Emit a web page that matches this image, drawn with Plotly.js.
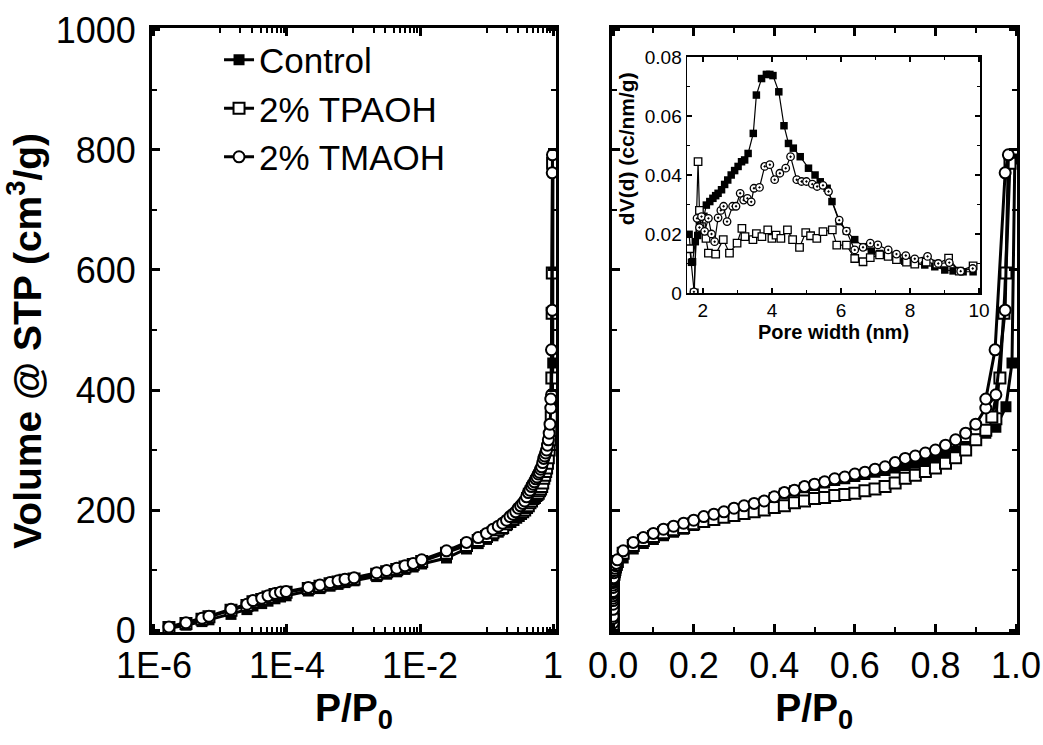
<!DOCTYPE html>
<html>
<head>
<meta charset="utf-8">
<script src="https://cdn.plot.ly/plotly-3.0.1.min.js"></script>
<style>html,body{margin:0;padding:0;background:#fff;}#chart{width:1043px;height:745px;}</style>
</head>
<body>
<div id="chart"></div>
<script>
// ---------- Isotherm data (P/P0, volume cm3/g) ----------
const pLow = [1.68e-6, 3.03e-6, 5.27e-6, 6.71e-6, 1.44e-5, 2.5e-5, 3.08e-5, 4.17e-5, 5.18e-5, 6.6e-5, 8.0e-5, 9.7e-5,
  2.09e-4, 3.13e-4, 4.44e-4, 5.85e-4, 7.45e-4, 1.02e-3, 2.23e-3, 3.15e-3, 4.47e-3, 5.94e-3, 7.9e-3, 1.06e-2];
const pMid = [0.025, 0.05, 0.075, 0.1, 0.125, 0.15, 0.175, 0.2, 0.225, 0.25, 0.275, 0.3, 0.325, 0.35, 0.375,
  0.4, 0.425, 0.45, 0.475, 0.5, 0.525, 0.55, 0.575, 0.6, 0.625, 0.65, 0.675, 0.7, 0.725, 0.75, 0.775, 0.8,
  0.825, 0.85, 0.875, 0.9, 0.925, 0.95];

const ctrlLowV = [3, 8, 14, 17, 26, 34, 40, 44, 48, 52, 55, 57, 65, 69, 73, 76, 79, 82, 89, 93, 97, 101, 105, 110];
const ctrlMidV = [120, 135, 144, 151, 157, 163, 168, 174, 180, 185, 190, 196, 201, 207, 213, 221, 228, 232, 237, 241,
  245, 249, 252, 256, 259, 263, 266, 270, 274, 278, 282, 286, 291, 298, 306, 318, 328, 338];
const ctrlHighP = [0.975, 0.99, 0.997];
const ctrlHighV = [372, 445, 785];

const tpaLowV = [4, 11, 18, 22, 33, 41, 47, 51, 55, 59, 61, 63, 69, 73, 77, 80, 83, 85, 93, 97, 101, 105, 109, 114];
const tpaMidV = [128, 141, 149, 156, 162, 167, 171, 177, 181, 184, 188, 191, 194, 197, 200, 204, 207, 212, 215, 219,
  221, 224, 226, 228, 232, 235, 239, 245, 253, 258, 264, 270, 278, 287, 300, 317, 333, 352];
const tpaHighP = [0.97, 0.985, 0.975, 0.96, 0.94];
const tpaHighV = [528, 778, 595, 420, 355];

const tmaLowV = [5, 12, 19.5, 23, 34.5, 43, 49, 53, 57, 61, 63, 64, 71, 75, 79, 82, 84.5, 87, 95.5, 99, 103, 107, 111, 117];
const tmaMidV = [132, 146, 154, 161, 168, 173, 178, 183, 189, 193, 197, 203, 207, 211, 215, 222, 229, 233, 239, 243,
  247, 252, 255, 260, 263, 268, 272, 279, 286, 290, 295, 300, 308, 317, 328, 343, 370, 392];
const tmaHighP = [0.973, 0.981, 0.973, 0.948, 0.925];
const tmaHighV = [533, 792, 762, 467, 385];

// ---------- Inset: pore size distribution ----------
const ctrlPoreW = [1.60, 1.67, 1.70, 1.78, 1.85, 1.95, 2.03, 2.10, 2.20, 2.29, 2.37, 2.44, 2.54, 2.63, 2.72, 2.82, 2.92,
  3.02, 3.12, 3.21, 3.31, 3.46, 3.55, 3.70, 3.84, 3.94, 4.03, 4.20, 4.35, 4.48, 4.62, 4.82, 5.06, 5.25, 5.40, 5.60,
  5.74, 5.95, 6.16, 6.40, 6.66, 6.88, 7.12, 7.37, 7.61, 7.85, 8.14, 8.43, 8.72, 9.01, 9.25, 9.54, 9.83];
const ctrlDV = [0.0199, 0.0104, 0.0106, 0.0174, 0.0195, 0.022, 0.026, 0.0298, 0.031, 0.0321, 0.033, 0.0338, 0.035,
  0.0368, 0.0383, 0.0400, 0.0415, 0.0429, 0.0445, 0.0451, 0.0473, 0.0541, 0.0671, 0.0727, 0.0741, 0.0741, 0.0737,
  0.0682, 0.0567, 0.0507, 0.0491, 0.0462, 0.0423, 0.0400, 0.0377, 0.0355, 0.0310, 0.0242, 0.0210, 0.0181, 0.0157,
  0.0142, 0.0134, 0.0125, 0.0117, 0.0108, 0.0100, 0.0095, 0.0089, 0.0078, 0.0075, 0.0072, 0.0072];
const tpaPoreW = [1.62, 1.75, 1.86, 1.90, 1.96, 2.09, 2.16, 2.37, 2.59, 2.77, 2.99, 3.13, 3.22, 3.45, 3.55, 3.71, 3.88,
  4.00, 4.12, 4.26, 4.45, 4.60, 4.80, 4.98, 5.12, 5.30, 5.48, 5.75, 5.88, 6.16, 6.40, 6.64, 6.85, 7.12, 7.37, 7.61,
  7.90, 8.14, 8.47, 8.78, 9.12, 9.43, 9.83];
const tpaDV = [0.0150, 0.0000, 0.0445, 0.0280, 0.0225, 0.0185, 0.0135, 0.0132, 0.0181, 0.0135, 0.0169, 0.0219, 0.0191,
  0.0181, 0.0201, 0.0191, 0.0214, 0.0185, 0.0196, 0.0185, 0.0214, 0.0181, 0.0155, 0.0205, 0.0194, 0.0185, 0.0208,
  0.0214, 0.0162, 0.0162, 0.0117, 0.0106, 0.0120, 0.0129, 0.0124, 0.0113, 0.0105, 0.0098, 0.0105, 0.0098, 0.0118,
  0.0074, 0.0092];
const tmaPoreW = [1.74, 1.83, 1.90, 1.96, 2.05, 2.16, 2.25, 2.34, 2.44, 2.52, 2.60, 2.70, 2.86, 2.96, 3.08, 3.18, 3.29,
  3.40, 3.48, 3.64, 3.79, 3.94, 4.08, 4.23, 4.40, 4.54, 4.72, 4.86, 5.00, 5.17, 5.31, 5.48, 5.64, 5.95, 6.16, 6.40,
  6.64, 6.85, 7.07, 7.37, 7.61, 7.88, 8.14, 8.51, 8.82, 9.14, 9.47, 9.82];
const tmaDV = [0.0004, 0.0253, 0.0222, 0.0259, 0.0209, 0.0253, 0.0200, 0.0174, 0.0255, 0.0280, 0.0294, 0.0242, 0.0294,
  0.0294, 0.0338, 0.0315, 0.0321, 0.0309, 0.0355, 0.0358, 0.0429, 0.0435, 0.0384, 0.0406, 0.0423, 0.0462, 0.0384,
  0.0378, 0.0378, 0.0369, 0.0361, 0.0365, 0.0344, 0.0247, 0.0210, 0.0146, 0.0155, 0.0169, 0.0163, 0.0146, 0.0132,
  0.0127, 0.0116, 0.0124, 0.0100, 0.0103, 0.0074, 0.0083];

const seriesNames = ['Control', '2% TPAOH', '2% TMAOH'];
const logTickVals = [1e-6, 1e-4, 1e-2, 1];
const logTickText = ['1E-6', '1E-4', '1E-2', '1'];
const logMinorVals = [1e-5, 2e-5, 3e-5, 4e-5, 5e-5, 6e-5, 7e-5, 8e-5, 9e-5,
  1e-3, 2e-3, 3e-3, 4e-3, 5e-3, 6e-3, 7e-3, 8e-3, 9e-3,
  0.1, 0.2, 0.3, 0.4, 0.5, 0.6, 0.7, 0.8, 0.9];

// ---------- Build traces ----------
const ctrlP = pLow.concat(pMid, ctrlHighP), ctrlV = ctrlLowV.concat(ctrlMidV, ctrlHighV);
const tpaP = pLow.concat(pMid, tpaHighP), tpaV = tpaLowV.concat(tpaMidV, tpaHighV);
const tmaP = pLow.concat(pMid, tmaHighP), tmaV = tmaLowV.concat(tmaMidV, tmaHighV);

const styles = [
  {symbol: 'square', color: '#000', lw: 0},
  {symbol: 'square', color: '#fff', lw: 2},
  {symbol: 'circle', color: '#fff', lw: 2}
];
const isoP = [ctrlP, tpaP, tmaP];
const isoV = [ctrlV, tpaV, tmaV];
const traces = [];
[['x', 'y'], ['x2', 'y2']].forEach(function (ax, k) {
  for (let i = 0; i < 3; i++) {
    traces.push({
      type: 'scatter', mode: 'lines+markers', name: seriesNames[i],
      x: isoP[i], y: isoV[i], xaxis: ax[0], yaxis: ax[1],
      showlegend: k === 0, legendgroup: seriesNames[i], cliponaxis: true,
      line: {color: '#000', width: 3},
      marker: {symbol: styles[i].symbol, size: 11, color: styles[i].color, line: {color: '#000', width: styles[i].lw}}
    });
  }
});
const insetW = [ctrlPoreW, tpaPoreW, tmaPoreW];
const insetV = [ctrlDV, tpaDV, tmaDV];
const insetSym = ['square', 'square', 'circle-dot'];
for (let i = 0; i < 3; i++) {
  traces.push({
    type: 'scatter', mode: 'lines+markers', name: seriesNames[i], showlegend: false,
    x: insetW[i], y: insetV[i], xaxis: 'x3', yaxis: 'y3',
    line: {color: '#000', width: 1.2},
    marker: {symbol: insetSym[i], size: 7.5, color: i === 0 ? '#000' : '#fff', line: {color: '#000', width: i === 0 ? 0 : 1.3}}
  });
}

const F = 'Arial, "Liberation Sans", sans-serif';
const mainAx = {
  showline: true, linewidth: 3, linecolor: '#000', mirror: 'ticks',
  ticks: 'inside', ticklen: 8, tickwidth: 3, tickcolor: '#000',
  showgrid: false, zeroline: false,
  tickfont: {family: F, size: 36, color: '#000'}
};
const insetAx = {
  showline: true, linewidth: 1.5, linecolor: '#000', mirror: 'ticks',
  ticks: 'inside', ticklen: 5, tickwidth: 1.5, tickcolor: '#000',
  showgrid: false, zeroline: false,
  tickfont: {family: F, size: 19, color: '#000'}
};
function ax(base, extra) { return Object.assign({}, base, extra); }

const layout = {
  width: 1043, height: 745,
  margin: {l: 0, r: 0, t: 0, b: 0},
  paper_bgcolor: '#fff', plot_bgcolor: 'rgba(0,0,0,0)',
  font: {family: F, color: '#000'},
  showlegend: true,
  legend: {x: 0.21, y: 0.959, xanchor: 'left', yanchor: 'top', bgcolor: 'rgba(0,0,0,0)',
    font: {family: F, size: 35, color: '#000'}, itemwidth: 30, tracegroupgap: 0},
  xaxis: ax(mainAx, {
    domain: [0.1457, 0.5331], type: 'log', range: [-6.03, 0.045], anchor: 'y',
    tickmode: 'array', tickvals: logTickVals, ticktext: logTickText,
    minor: {tickmode: 'array', tickvals: logMinorVals, ticks: 'inside', ticklen: 5, tickwidth: 2, tickcolor: '#000'},
    title: {text: '<b>P/P<sub>0</sub></b>', font: {family: F, size: 39, color: '#000'}, standoff: 4}
  }),
  yaxis: ax(mainAx, {
    domain: [0.1517, 0.9624], range: [-3.3, 1003.3], anchor: 'x',
    tickmode: 'linear', tick0: 0, dtick: 200, ticklabelstandoff: 6,
    minor: {dtick: 100, ticks: 'inside', ticklen: 5, tickwidth: 2, tickcolor: '#000'},
    title: {text: '<b>Volume @ STP (cm<sup>3</sup>/g)&nbsp;&nbsp;</b>', font: {family: F, size: 39, color: '#000'}, standoff: 8}
  }),
  xaxis2: ax(mainAx, {
    domain: [0.5863, 0.9751], range: [-0.004, 1.0025], anchor: 'y2',
    tickmode: 'linear', tick0: 0, dtick: 0.2, tickformat: '.1f',
    minor: {dtick: 0.1, ticks: 'inside', ticklen: 5, tickwidth: 2, tickcolor: '#000'},
    title: {text: '<b>P/P<sub>0</sub></b>', font: {family: F, size: 39, color: '#000'}, standoff: 4}
  }),
  yaxis2: ax(mainAx, {
    domain: [0.1517, 0.9624], range: [-3.3, 1003.3], anchor: 'x2',
    tickmode: 'linear', tick0: 0, dtick: 200, showticklabels: false,
    minor: {dtick: 100, ticks: 'inside', ticklen: 5, tickwidth: 2, tickcolor: '#000'}
  }),
  xaxis3: ax(insetAx, {
    domain: [0.6587, 0.9396], range: [1.54, 10.03], anchor: 'y3',
    tickmode: 'linear', tick0: 0, dtick: 2,
    minor: {dtick: 1, ticks: 'inside', ticklen: 3, tickwidth: 1.2, tickcolor: '#000'},
    title: {text: '<b>Pore width (nm)</b>', font: {family: F, size: 20, color: '#000'}, standoff: 1}
  }),
  yaxis3: ax(insetAx, {
    domain: [0.6067, 0.9235], range: [0, 0.08], anchor: 'x3',
    tickmode: 'linear', tick0: 0, dtick: 0.02,
    minor: {dtick: 0.01, ticks: 'inside', ticklen: 3, tickwidth: 1.2, tickcolor: '#000'},
    title: {text: '<b>&nbsp;&nbsp;&nbsp;&nbsp;&nbsp;&nbsp;&nbsp;&nbsp;&nbsp;dV(d) (cc/nm/g)</b>', font: {family: F, size: 21, color: '#000'}, standoff: 4}
  })
};

Plotly.newPlot('chart', traces, layout, {displayModeBar: false, staticPlot: true});
</script>
</body>
</html>
